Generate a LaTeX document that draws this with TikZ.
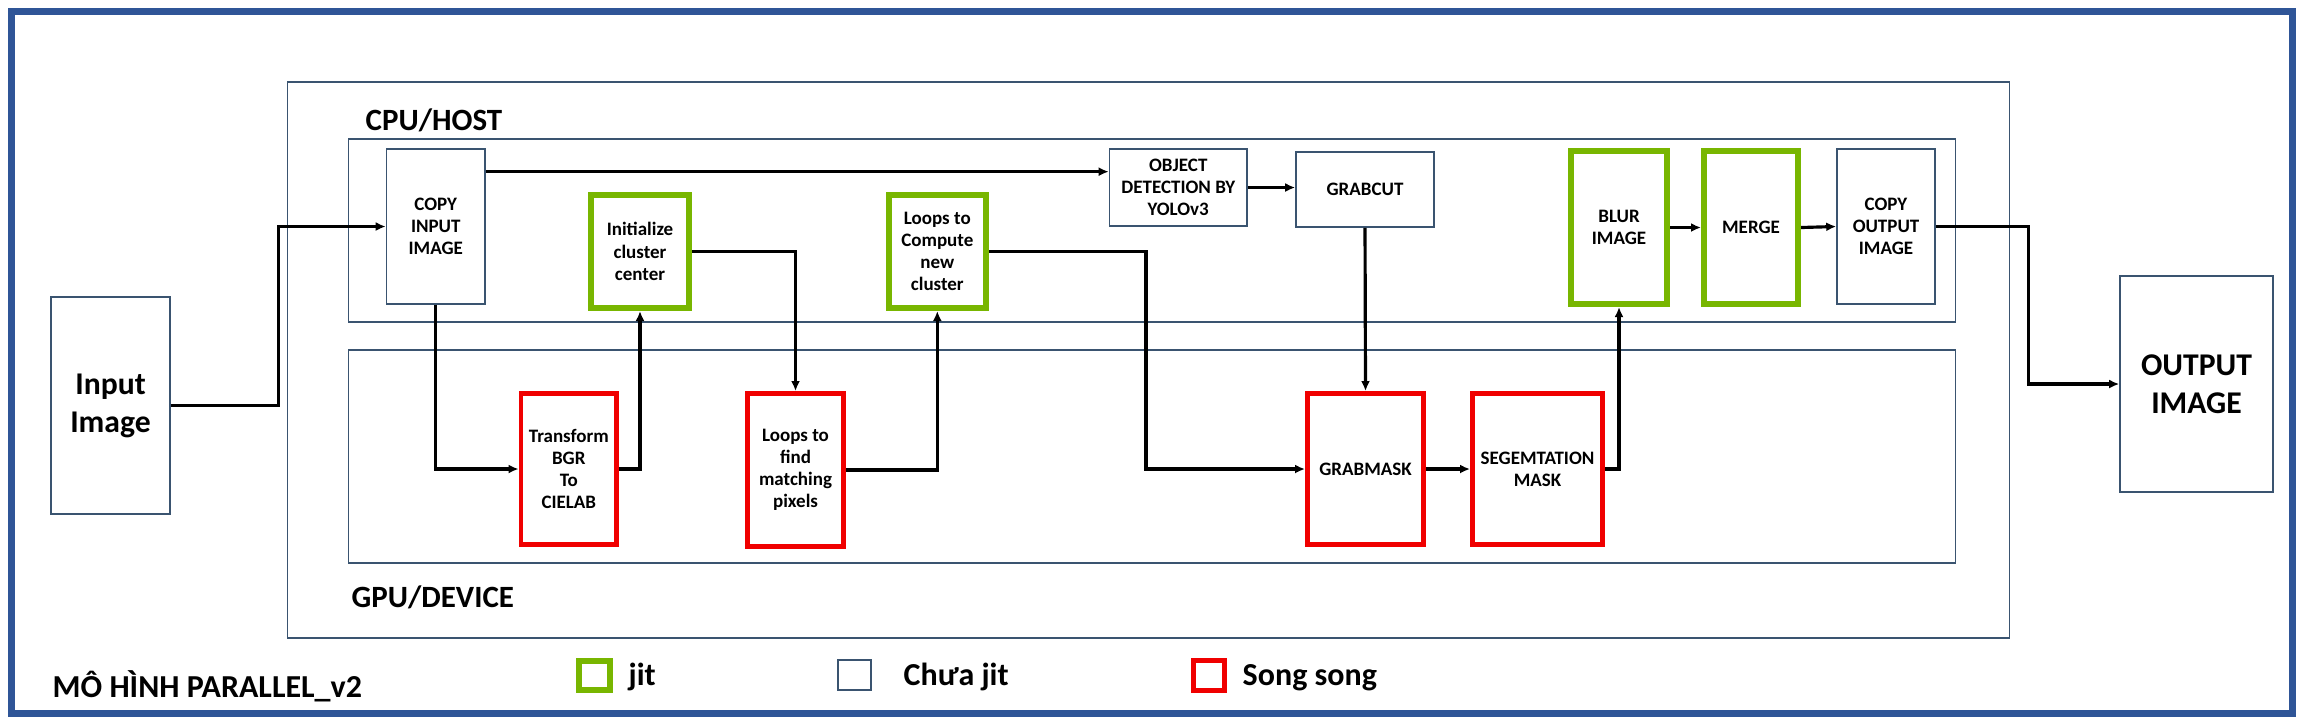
\documentclass[tikz,border=0pt]{standalone}
\usepackage{fontspec}
\setmainfont{Carlito}
\usetikzlibrary{arrows.meta,calc}
\definecolor{frameblue}{RGB}{47,85,151}
\definecolor{thinblue}{RGB}{58,84,112}
\definecolor{jitgreen}{RGB}{120,182,0}
\definecolor{parred}{RGB}{240,0,0}
\begin{document}
\begin{tikzpicture}[x=0.01cm,y=-0.01cm,
  plainbox/.style={draw=thinblue, line width=0.45pt, fill=white, inner sep=1pt, align=center,
    font=\fontsize{5.4}{6.3}\selectfont\bfseries},
  jitbox/.style={plainbox, draw=jitgreen, line width=1.7pt},
  parbox/.style={plainbox, draw=parred, line width=1.4pt},
  bigbox/.style={plainbox, font=\fontsize{9}{10.8}\selectfont\bfseries},
  region/.style={draw=thinblue, line width=0.45pt, inner sep=0pt},
  conn/.style={draw=black, line width=0.9pt, -{Latex[length=1mm,width=0.9mm]}},
  lbl/.style={font=\fontsize{8.8}{10.8}\selectfont\bfseries, anchor=base west, inner sep=0pt},
  legtext/.style={font=\fontsize{9.1}{10.5}\selectfont\bfseries, anchor=base west, inner sep=0pt},
]
\useasboundingbox (0,0) rectangle (2304,720);
\fill[white] (0,0) rectangle (2304,720);
\draw[frameblue, line width=2pt] (11.5,11.5) rectangle (2292.5,713.5);

% containers
\node[region, minimum width=17.21cm, minimum height=5.56cm] (host) at (1148.5,360) {};
\node[region, minimum width=16.06cm, minimum height=1.83cm] (cpu) at (1152,230.5) {};
\node[region, minimum width=16.06cm, minimum height=2.13cm] (gpu) at (1152,456.5) {};
\node[lbl] (cpulbl) at (365,130) {CPU/HOST};
\node[lbl] (gpulbl) at (351,607) {GPU/DEVICE};

% outer image boxes
\node[bigbox, minimum width=1.19cm, minimum height=2.17cm] (in) at (110.5,405.5) {Input\\Image};
\node[bigbox, minimum width=1.53cm, minimum height=2.16cm] (out) at (2196.5,384) {OUTPUT\\IMAGE};

% CPU row
\node[plainbox, minimum width=0.985cm, minimum height=1.55cm] (copyin) at (435.75,226.5) {COPY\\INPUT\\IMAGE};
\node[jitbox, minimum width=0.98cm, minimum height=1.13cm] (init) at (640,251.5) {Initialize\\cluster\\center};
\node[jitbox, minimum width=0.974cm, minimum height=1.13cm] (compute) at (937.3,251.5) {Loops to\\Compute\\new\\cluster};
\node[plainbox, minimum width=1.375cm, minimum height=0.77cm] (obj) at (1178.25,187.5) {OBJECT\\DETECTION BY\\YOLOv3};
\node[plainbox, minimum width=1.38cm, minimum height=0.75cm] (grabcut) at (1365,189.5) {GRABCUT};
\node[jitbox, minimum width=0.96cm, minimum height=1.53cm] (blur) at (1619,227.5) {BLUR\\IMAGE};
\node[jitbox, minimum width=0.94cm, minimum height=1.53cm] (merge) at (1751,227.5) {MERGE};
\node[plainbox, minimum width=0.98cm, minimum height=1.55cm] (copyout) at (1886,226.5) {COPY\\OUTPUT\\IMAGE};

% GPU row
\node[parbox, minimum width=0.955cm, minimum height=1.51cm] (transform) at (568.8,469) {Transform\\BGR\\To\\CIELAB};
\node[parbox, minimum width=0.96cm, minimum height=1.53cm] (find) at (795.5,470) {Loops to\\find\\matching\\pixels};
\node[parbox, minimum width=1.16cm, minimum height=1.51cm] (grabmask) at (1365.5,469) {GRABMASK};
\node[parbox, minimum width=1.30cm, minimum height=1.51cm] (seg) at (1537.5,469) {SEGEMTATION\\MASK};

% connectors
\draw[conn] (in.east) -- ++(108,0) |- (copyin.west);
\draw[conn] ($(copyin.north east)!0.15!(copyin.south east)$) coordinate (topline) -- (topline -| obj.west);
\draw[conn] (copyin.south) |- (transform.west);
\draw[conn] (transform.east) -| (init.south);
\draw[conn] (init.east) -| (find.north);
\draw[conn] (find.east) -| (compute.south);
\draw[conn] (compute.east) -- ++(157,0) |- (grabmask.west);
\draw[conn] (obj.east) -- (obj.east -| grabcut.west);
\draw[conn] (grabcut.south) -- (grabmask.north);
\draw[conn] (grabmask.east) -- (seg.west);
\draw[conn] (seg.east) -| (blur.south);
\draw[conn] (blur.east) -- (merge.west);
\draw[conn] (merge.east) -- (copyout.west);
\draw[conn] (copyout.east) -- ++(93,0) |- (out.west);

% legend
\node[legtext] (title) at (52,697) {MÔ HÌNH PARALLEL\_v2};
\node[jitbox, minimum width=0.31cm, minimum height=0.29cm, inner sep=0pt] (legjit) at (594.5,675.5) {};
\node[legtext] (legjittxt) at (628,685) {jit};
\node[plainbox, minimum width=0.33cm, minimum height=0.30cm, inner sep=0pt] (legplain) at (854.5,675) {};
\node[legtext] (legplaintxt) at (903,685) {Chưa jit};
\node[parbox, minimum width=0.31cm, minimum height=0.30cm, inner sep=0pt] (legpar) at (1209,675.5) {};
\node[legtext] (legpartxt) at (1242,685) {Song song};
\end{tikzpicture}
\end{document}
